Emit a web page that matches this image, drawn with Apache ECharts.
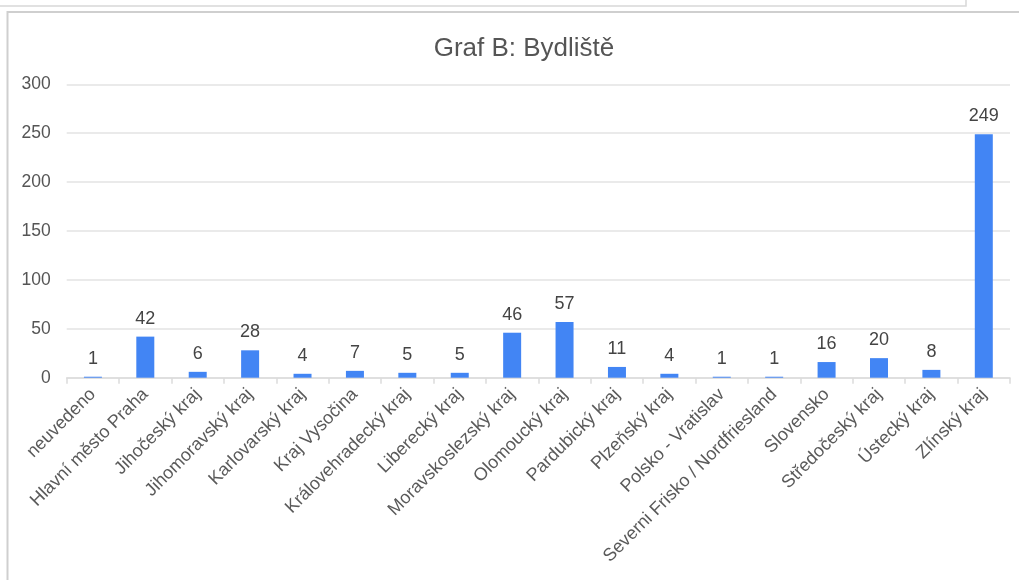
<!DOCTYPE html>
<html>
<head>
<meta charset="utf-8">
<script src="https://cdn.jsdelivr.net/npm/echarts@6/dist/echarts.min.js"></script>
<style>
html,body{margin:0;padding:0;background:#fff;}
#c{width:1019px;height:580px;}
</style>
</head>
<body>
<div id="c"></div>
<script>
var titleText = 'Graf B: Bydliště';
var categories = ['neuvedeno','Hlavní město Praha','Jihočeský kraj','Jihomoravský kraj','Karlovarský kraj','Kraj Vysočina','Královehradecký kraj','Liberecký kraj','Moravskoslezský kraj','Olomoucký kraj','Pardubický kraj','Plzeňský kraj','Polsko - Vratislav','Severni Frisko / Nordfriesland','Slovensko','Středočeský kraj','Ústecký kraj','Zlínský kraj'];
var values = [1,42,6,28,4,7,5,5,46,57,11,4,1,1,16,20,8,249];
var yTicks = [0,50,100,150,200,250,300];

var chart = echarts.init(document.getElementById('c'));
var font = 'Liberation Sans, Arial, Helvetica, sans-serif';
chart.setOption({
  animation: false,
  backgroundColor: '#fff',
  title: {
    text: titleText,
    left: 519, top: 31, textAlign: 'center',
    textStyle: {fontFamily: font, fontSize: 26, fontWeight: 'normal', color: '#555'}
  },
  graphic: [
    {type:'rect', shape:{x:-5, y:-10, width:971, height:16}, style:{fill:'none', stroke:'#d8d8d8', lineWidth:1.5}, silent:true},
    {type:'rect', shape:{x:7.5, y:12, width:1030, height:600}, style:{fill:'none', stroke:'#cfcfcf', lineWidth:2}, silent:true}
  ],
  grid: {left: 66.7, right: 9, top: 84.3, bottom: 202.3, containLabel: false},
  xAxis: {
    type: 'category',
    data: categories,
    axisLine: {lineStyle: {color: '#dcdcdc', width: 1.5}},
    axisTick: {show: true, length: 6, lineStyle: {color: '#dcdcdc', width: 1.5}},
    axisLabel: {interval: 0, rotate: 45, margin: 14, fontFamily: font, fontSize: 18, color: '#5a5a5a'}
  },
  yAxis: {
    type: 'value',
    min: yTicks[0], max: yTicks[yTicks.length-1], interval: 50,
    axisLine: {show: false},
    axisTick: {show: false},
    splitLine: {lineStyle: {color: '#e3e3e3', width: 1.5}},
    axisLabel: {margin: 16, fontFamily: font, fontSize: 17.5, color: '#555'}
  },
  series: [{
    type: 'bar',
    data: values,
    barWidth: 18,
    itemStyle: {color: '#4285F4'},
    label: {show: true, position: 'top', distance: 9, fontFamily: font, fontSize: 18, color: '#444'}
  }]
});
</script>
</body>
</html>
